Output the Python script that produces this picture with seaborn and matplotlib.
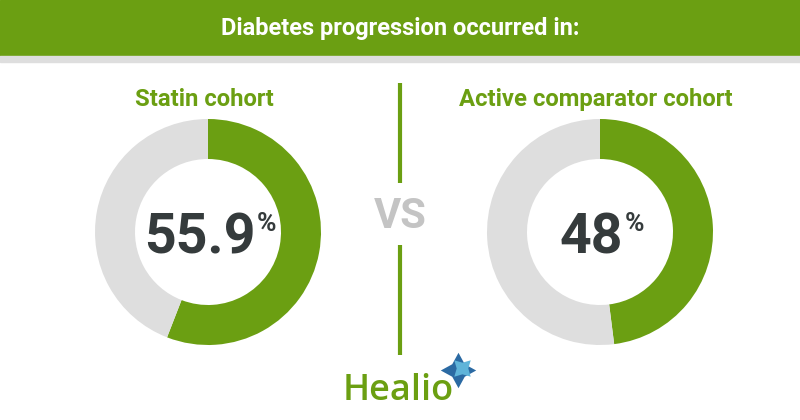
import matplotlib
matplotlib.use('Agg')
import matplotlib.pyplot as plt
import seaborn as sns

# Chart data
cohorts = ['Statin cohort', 'Active comparator cohort']
progression_pct = [55.9, 48]
pct_labels = ['55.9', '48']
header = 'Diabetes progression occurred in:'

green = '#6b9f12'
light_gray = '#dedede'
dark_text = '#353b3c'

sns.set_theme(style='white')
plt.rcParams['font.family'] = ['Roboto', 'DejaVu Sans']

W, H = 800, 420
fig = plt.figure(figsize=(8, 4.2), dpi=100)
ax = fig.add_axes([0, 0, 1, 1])

# header bar + gray strip
ax.add_patch(plt.Rectangle((0, H - 55), W, 55, color=green, zorder=1))
ax.add_patch(plt.Rectangle((0, H - 62), W, 6, color=light_gray, zorder=1))
ax.text(W / 2, H - 29, header, color='white', fontsize=17, fontweight='bold',
        ha='center', va='center', family=['Liberation Sans Narrow', 'Roboto', 'DejaVu Sans'])

# donuts
centers_x = [208, 600]
cy = H - 232
for cx, pct in zip(centers_x, progression_pct):
    ax.pie([pct, 100 - pct], colors=[green, light_gray], startangle=90, counterclock=False,
           radius=113, center=(cx, cy), wedgeprops={'width': 40, 'linewidth': 0})

fig.canvas.draw()
renderer = fig.canvas.get_renderer()
for cx, name, lab in zip(centers_x, cohorts, pct_labels):
    ax.text(cx - 4, H - 106, name, color=green, fontsize=17.2, fontweight='bold', ha='center', va='baseline')
    main = ax.text(0, H - 253, lab, color=dark_text, fontsize=40, fontweight='bold', ha='left', va='baseline')
    sup = ax.text(0, H - 212, '%', color=dark_text, fontsize=19, fontweight='bold', ha='left', va='top')
    w1 = main.get_window_extent(renderer).width
    w2 = sup.get_window_extent(renderer).width
    gap = 1
    left = cx + 2 - (w1 + w2 + gap) / 2
    main.set_x(left)
    sup.set_x(left + w1 + gap)

# divider and VS
ax.plot([400, 400], [H - 83, H - 183], color=green, lw=3, solid_capstyle='butt')
ax.plot([400, 400], [H - 245, H - 355], color=green, lw=3, solid_capstyle='butt')
ax.text(400, H - 216, 'VS', color='#c4c4c4', fontsize=30, fontweight='bold', ha='center', va='center')

# Healio logo
ax.text(343, H - 400, 'Healio', color=green, fontsize=26, fontweight='semibold', ha='left', va='baseline',
        family=['Open Sans', 'DejaVu Sans'])
ax.scatter([458], [H - 370], marker=(4, 1, 0), s=650, color='#2b6aa3', zorder=5, linewidths=0)
ax.scatter([462], [H - 368], marker=(4, 1, 45), s=280, color='#5fb4d9', zorder=6, linewidths=0)

ax.set_xlim(0, W)
ax.set_ylim(0, H)
ax.set_aspect('auto')
ax.axis('off')

fig.savefig('out.png', dpi=100, facecolor='white')
